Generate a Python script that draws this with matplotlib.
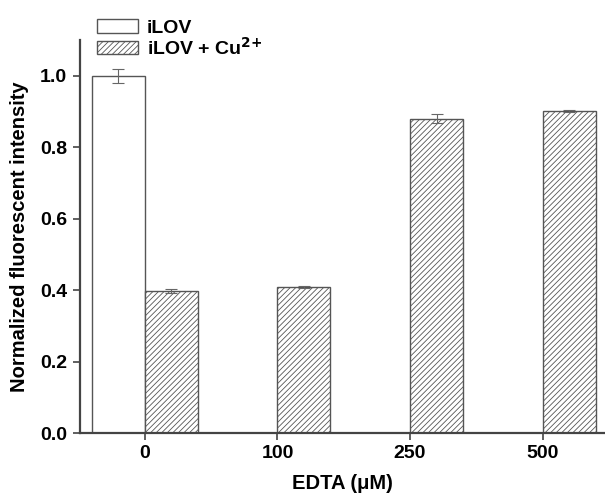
import numpy as np
import matplotlib
matplotlib.use('Agg')
from matplotlib import pyplot as plt

edta = ['0', '100', '250', '500']
ilov = [1.0]
ilov_err = [0.02]
ilov_cu = [0.397, 0.408, 0.880, 0.902]
ilov_cu_err = [0.006, 0.003, 0.012, 0.003]

plt.rcParams['font.family'] = ['Liberation Sans', 'DejaVu Sans']
plt.rcParams['font.weight'] = 'bold'
plt.rcParams['mathtext.default'] = 'bf'
plt.rcParams['hatch.color'] = '#8a8a8a'
plt.rcParams['hatch.linewidth'] = 0.6

fig = plt.figure(figsize=(6.05, 5), dpi=100)
ax = fig.add_axes([0.132, 0.134, 0.868, 0.786])

x = np.arange(len(edta))
w = 0.4
edge = '#555555'
ax.bar(x[:1] - w / 2, ilov, w, yerr=ilov_err, color='white', edgecolor=edge,
       linewidth=1.0, label='iLOV', capsize=4,
       error_kw=dict(ecolor='#666666', elinewidth=0.8, capthick=0.8))
ax.bar(x + w / 2, ilov_cu, w, yerr=ilov_cu_err, color='white', edgecolor=edge,
       linewidth=1.0, hatch='//////', label=r'iLOV + Cu$^{2{+}}$', capsize=4,
       error_kw=dict(ecolor='#666666', elinewidth=0.8, capthick=0.8))

ax.set_xlim(-0.49, 3.47)
ax.set_ylim(0, 1.1)
ax.set_xticks(x)
ax.set_xticklabels(edta)
ax.set_yticks(np.arange(0, 1.01, 0.2))
ax.set_yticklabels(['%.1f' % v for v in np.arange(0, 1.01, 0.2)])
ax.tick_params(direction='out', length=5, width=1.2, color='#444444',
               labelsize=14, pad=4)
for s in ['top', 'right']:
    ax.spines[s].set_visible(False)
for s in ['left', 'bottom']:
    ax.spines[s].set_color('#444444')
    ax.spines[s].set_linewidth(1.6)

ax.set_ylabel('Normalized fluorescent intensity', fontsize=14.5, fontweight='bold', labelpad=8)
ax.set_xlabel('EDTA (\u03bcM)', fontsize=14.5, fontweight='bold', labelpad=8)

leg = ax.legend(loc='upper left', bbox_to_anchor=(0.0, 1.098), frameon=False,
                prop={'size': 14, 'weight': 'bold'}, handlelength=2.1,
                handleheight=0.7, labelspacing=0.0, handletextpad=0.45)

plt.savefig('out.png', dpi=100)
